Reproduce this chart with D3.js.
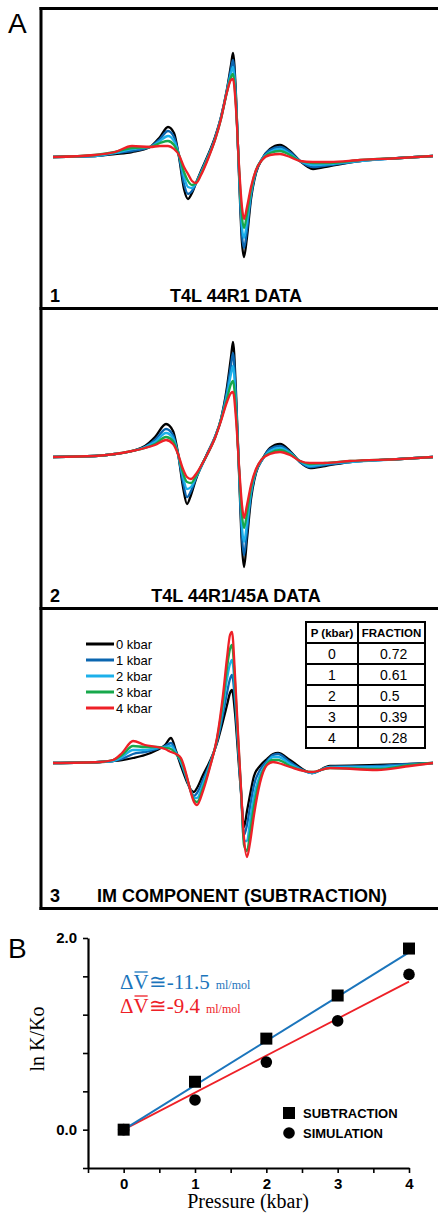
<!DOCTYPE html>
<html><head><meta charset="utf-8">
<script src="https://cdn.jsdelivr.net/npm/d3@7"></script>
<style>body{margin:0;background:#fff} svg{display:block}</style>
</head><body><svg id="chart" width="438" height="1216"></svg>
<script>
// ---------- Panel A data (field offset, arbitrary units; amplitude, arbitrary units) ----------
const pressureLabels = ["0 kbar", "1 kbar", "2 kbar", "3 kbar", "4 kbar"];
const seriesColors = ["#000000", "#0b66b0", "#1cb0ea", "#17a84b", "#ee2027"];

const field1 = [0, 42, 62, 79, 97, 107, 115, 121, 126, 131, 135, 139, 143, 148, 155, 162, 168, 174, 178, 180, 183, 186, 189, 191, 194, 198, 203, 209, 217, 227, 237, 247, 260, 277, 307, 347, 380];
const p1_0kbar = [0, 1, 3, 5, 10, 20, 30, 24, 0, -32, -42, -36, -26, -14, 2, 20, 40, 68, 92, 104, 62, -18, -86, -100, -80, -42, -16, -2, 8, 12, 6, -4, -12, -9, -4, -1, 1];
const p1_1kbar = [0, 1, 4, 6, 10, 18, 26, 20, 1, -27, -37, -34, -26, -15, 1, 19, 40, 67, 88, 97, 58, -16, -78, -91, -73, -39, -15, -2, 7, 10, 5, -4, -10, -8, -4, -1, 1];
const p1_2kbar = [0, 1, 4, 8, 10, 16, 21, 16, 2, -20, -30, -31, -26, -16, 0, 18, 39, 66, 84, 90, 54, -13, -70, -81, -65, -36, -14, -2, 5, 8, 3, -4, -8, -7, -4, -1, 1];
const p1_3kbar = [0, 2, 5, 9, 10, 14, 16, 12, 2, -15, -24, -28, -26, -17, -1, 17, 38, 65, 80, 83, 51, -10, -60, -71, -57, -33, -13, -3, 4, 6, 2, -4, -6, -6, -3, -1, 1];
const p1_4kbar = [0, 2, 5, 11, 10, 11, 11, 8, 2, -10, -17, -24, -26, -18, -2, 17, 38, 65, 77, 78, 48, -8, -50, -62, -50, -30, -13, -3, 2, 3, 0, -4, -5, -5, -3, -1, 1];

const field2 = [0, 42, 62, 79, 92, 102, 113, 120, 125, 130, 134, 138, 143, 148, 155, 162, 168, 174, 178, 180, 183, 186, 189, 191, 194, 198, 203, 209, 217, 227, 237, 247, 257, 272, 297, 347, 380];
const p2_0kbar = [0, 1, 3, 6, 11, 20, 33, 26, 4, -30, -47, -38, -22, -10, 5, 20, 38, 70, 100, 115, 65, -15, -90, -110, -82, -42, -16, -3, 9, 13, 6, -5, -11, -9, -5, -2, 0];
const p2_1kbar = [0, 1, 3, 6, 10, 17, 28, 22, 3, -25, -40, -34, -21, -10, 5, 20, 38, 66, 92, 104, 58, -13, -80, -98, -74, -38, -15, -3, 8, 11, 5, -5, -10, -8, -5, -2, 0];
const p2_2kbar = [0, 1, 3, 6, 10, 15, 24, 19, 3, -20, -32, -30, -20, -10, 4, 20, 37, 62, 83, 91, 52, -11, -70, -85, -66, -35, -14, -3, 6, 9, 4, -4, -9, -7, -5, -2, 0];
const p2_3kbar = [0, 1, 3, 6, 9, 13, 20, 16, 3, -16, -25, -26, -19, -9, 4, 19, 37, 58, 73, 76, 45, -10, -58, -71, -56, -31, -13, -2, 4, 7, 3, -4, -7, -6, -4, -2, 0];
const p2_4kbar = [0, 1, 3, 6, 9, 12, 17, 13, 3, -12, -20, -22, -17, -9, 4, 19, 36, 55, 64, 65, 38, -8, -48, -61, -48, -28, -12, -2, 3, 5, 2, -4, -6, -6, -4, -2, 0];

const field3 = [0, 47, 60, 69, 80, 92, 104, 112, 118, 123, 128, 134, 138, 141, 144, 150, 157, 164, 170, 174, 177, 179, 182, 185, 188, 191, 194, 197, 201, 207, 214, 220, 225, 237, 259, 277, 324, 357, 380];
const p3_0kbar = [0, 1, 2, 3, 5, 8, 13, 18, 25, 12, -3, -19, -27, -29, -25, -12, 2, 20, 42, 58, 70, 73, 50, 10, -30, -64, -48, -32, -13, -3, 4, 9, 10, 3, -10, -3, -2, -1, 0];
const p3_1kbar = [0, 1, 2, 4, 9, 11, 14, 17, 20, 11, 0, -17, -28, -33, -30, -17, 0, 21, 49, 70, 84, 88, 62, 17, -28, -72, -62, -44, -22, -7, 2, 8, 9, 1, -10, -4, -3, -1, 0];
const p3_2kbar = [0, 1, 2, 6, 13, 13, 15, 16, 17, 10, 1, -16, -29, -35, -35, -21, -1, 23, 56, 84, 99, 103, 72, 22, -27, -78, -78, -58, -33, -12, 0, 6, 6, -1, -10, -4, -4, -2, 0];
const p3_3kbar = [0, 1, 3, 8, 17, 16, 16, 15, 14, 9, 3, -15, -29, -37, -39, -25, -3, 24, 62, 95, 114, 118, 80, 26, -26, -82, -88, -70, -43, -16, -1, 3, 3, -3, -9, -5, -6, -2, 0];
const p3_4kbar = [0, 1, 3, 10, 22, 18, 16, 14, 11, 9, 5, -14, -30, -39, -42, -28, -4, 25, 68, 105, 128, 131, 88, 30, -25, -75, -94, -80, -52, -20, -2, 1, 0, -4, -9, -5, -7, -3, 0];

const panelNumbers = ["1", "2", "3"];
const panelTitles = ["T4L 44R1 DATA", "T4L 44R1/45A DATA", "IM COMPONENT (SUBTRACTION)"];

// table in panel 3
const tableHeader = ["P (kbar)", "FRACTION"];
const tablePressure = ["0", "1", "2", "3", "4"];
const tableFraction = ["0.72", "0.61", "0.5", "0.39", "0.28"];

// ---------- Panel B data ----------
const pressureKbar = [0, 1, 2, 3, 4];
const subtraction = [0, 0.50, 0.95, 1.40, 1.89];
const simulation = [0, 0.31, 0.705, 1.135, 1.62];
const fitX = [0, 4];
const fitSubtraction = [0, 1.85];
const fitSimulation = [0, 1.545];
const yTickValues = [-0.4, 0, 0.4, 0.8, 1.2, 1.6, 2.0];
const yTickLabels = {"0": "0.0", "2": "2.0"};
const xTickValues = [-0.5, 0, 0.5, 1, 1.5, 2, 2.5, 3, 3.5, 4];
const legendB = ["SUBTRACTION", "SIMULATION"];

// ---------- Drawing ----------
const SANS = "'Liberation Sans', Arial, Helvetica, sans-serif";
const SERIF = "'Liberation Serif', 'Times New Roman', serif";
const svg = d3.select("#chart");

const panels = [
  {field: field1, series: [p1_0kbar, p1_1kbar, p1_2kbar, p1_3kbar, p1_4kbar], top: 8.5, base: 157},
  {field: field2, series: [p2_0kbar, p2_1kbar, p2_2kbar, p2_3kbar, p2_4kbar], top: 308.5, base: 457},
  {field: field3, series: [p3_0kbar, p3_1kbar, p3_2kbar, p3_3kbar, p3_4kbar], top: 608.5, base: 763}
];

const xSpec = d3.scaleLinear().domain([0, 380]).range([53, 433]);

// frame
const frame = svg.append("g").attr("stroke", "#000").attr("stroke-width", 3).attr("fill", "none");
frame.append("line").attr("x1", 41).attr("x2", 41).attr("y1", 7).attr("y2", 910);
[8.5, 308.5, 608.5, 908.5].forEach(y => frame.append("line").attr("x1", 39.5).attr("x2", 438).attr("y1", y).attr("y2", y));

svg.append("text").attr("x", 8).attr("y", 33).attr("font-family", SANS).attr("font-size", 28).text("A");

panels.forEach((p, i) => {
  const y = d3.scaleLinear().domain([-150, 150]).range([p.base + 150, p.base - 150]);
  const line = d3.line().x(d => xSpec(d[0])).y(d => y(d[1])).curve(d3.curveMonotoneX);
  const g = svg.append("g");
  p.series.forEach((s, k) => {
    g.append("path")
      .attr("d", line(p.field.map((f, j) => [f, s[j]])))
      .attr("fill", "none").attr("stroke", seriesColors[k])
      .attr("stroke-width", 2.3).attr("stroke-linejoin", "round");
  });
  svg.append("text").attr("x", 50).attr("y", p.top + 293).attr("font-family", SANS)
    .attr("font-weight", "bold").attr("font-size", 18).text(panelNumbers[i]);
  svg.append("text").attr("x", i === 2 ? 242 : 236).attr("y", p.top + 293).attr("text-anchor", "middle")
    .attr("font-family", SANS).attr("font-weight", "bold").attr("font-size", 18).text(panelTitles[i]);
});

// legend in panel 3
const leg = svg.append("g");
pressureLabels.forEach((lab, k) => {
  const ly = 644 + 16 * k;
  leg.append("line").attr("x1", 86).attr("x2", 114).attr("y1", ly).attr("y2", ly)
    .attr("stroke", seriesColors[k]).attr("stroke-width", 3);
  leg.append("text").attr("x", 116).attr("y", ly).attr("dy", "0.36em")
    .attr("font-family", SANS).attr("font-size", 13).text(lab);
});

// table
const tb = svg.append("g");
const tx0 = 306, tx1 = 358, tx2 = 425;
const rowY = [622, 643, 664, 685, 706, 727, 748];
tb.append("rect").attr("x", tx0).attr("y", rowY[0]).attr("width", tx2 - tx0).attr("height", rowY[6] - rowY[0])
  .attr("fill", "#fff").attr("stroke", "#000").attr("stroke-width", 2);
rowY.slice(1, 6).forEach(yy => tb.append("line").attr("x1", tx0).attr("x2", tx2).attr("y1", yy).attr("y2", yy).attr("stroke", "#000").attr("stroke-width", 2));
tb.append("line").attr("x1", tx1).attr("x2", tx1).attr("y1", rowY[0]).attr("y2", rowY[6]).attr("stroke", "#000").attr("stroke-width", 2);
tb.append("text").attr("x", (tx0 + tx1) / 2).attr("y", (rowY[0] + rowY[1]) / 2).attr("dy", "0.36em").attr("text-anchor", "middle")
  .attr("font-family", SANS).attr("font-weight", "bold").attr("font-size", 11.5).text(tableHeader[0]);
tb.append("text").attr("x", (tx1 + tx2) / 2).attr("y", (rowY[0] + rowY[1]) / 2).attr("dy", "0.36em").attr("text-anchor", "middle")
  .attr("font-family", SANS).attr("font-weight", "bold").attr("font-size", 11.5).text(tableHeader[1]);
tablePressure.forEach((pv, r) => {
  const cy = (rowY[r + 1] + rowY[r + 2]) / 2;
  tb.append("text").attr("x", (tx0 + tx1) / 2).attr("y", cy).attr("dy", "0.36em").attr("text-anchor", "middle")
    .attr("font-family", SANS).attr("font-size", 14).text(pv);
  tb.append("text").attr("x", 380).attr("y", cy).attr("dy", "0.36em")
    .attr("font-family", SANS).attr("font-size", 14).text(tableFraction[r]);
});

// ---------- Panel B ----------
svg.append("text").attr("x", 8).attr("y", 958).attr("font-family", SANS).attr("font-size", 28).text("B");

const xB = d3.scaleLinear().domain([-0.5, 4]).range([88, 409]);
const yB = d3.scaleLinear().domain([-0.4, 2.0]).range([1168, 938]);

const yAxis = d3.axisLeft(yB).tickValues(yTickValues).tickSize(5).tickSizeOuter(0).tickPadding(6)
  .tickFormat(d => yTickLabels[String(Math.round(d * 10) / 10)] || "");
const gy = svg.append("g").attr("transform", "translate(88,0)").call(yAxis);
const xAxis = d3.axisBottom(xB).tickValues(xTickValues).tickSize(5).tickSizeOuter(0).tickPadding(5)
  .tickFormat(d => Number.isInteger(d) ? String(d) : "");
const gx = svg.append("g").attr("transform", "translate(0,1168)").call(xAxis);
[gx, gy].forEach(g => {
  g.select(".domain").attr("stroke", "#000").attr("stroke-width", 2.2);
  g.selectAll(".tick line").attr("stroke", "#000").attr("stroke-width", 1.6);
  g.selectAll(".tick text").attr("font-family", SANS).attr("font-weight", "bold").attr("font-size", 15).attr("fill", "#000");
});

const fitLine = d3.line().x(d => xB(d[0])).y(d => yB(d[1]));
svg.append("path").attr("d", fitLine(fitX.map((x, i) => [x, fitSimulation[i]])))
  .attr("stroke", "#ee2027").attr("stroke-width", 1.8).attr("fill", "none");
svg.append("path").attr("d", fitLine(fitX.map((x, i) => [x, fitSubtraction[i]])))
  .attr("stroke", "#1b75bc").attr("stroke-width", 2).attr("fill", "none");

svg.append("g").selectAll("circle").data(pressureKbar).join("circle")
  .attr("cx", d => xB(d)).attr("cy", (d, i) => yB(simulation[i])).attr("r", 5.8).attr("fill", "#000");
svg.append("g").selectAll("rect").data(pressureKbar).join("rect")
  .attr("x", d => xB(d) - 6).attr("y", (d, i) => yB(subtraction[i]) - 6)
  .attr("width", 12).attr("height", 12).attr("fill", "#000");

// legend B
svg.append("rect").attr("x", 283).attr("y", 1107).attr("width", 12).attr("height", 12).attr("fill", "#000");
svg.append("circle").attr("cx", 289).attr("cy", 1133).attr("r", 5.8).attr("fill", "#000");
legendB.forEach((t, i) => svg.append("text").attr("x", 303).attr("y", 1113 + 20 * i).attr("dy", "0.36em")
  .attr("font-family", SANS).attr("font-weight", "bold").attr("font-size", 13).text(t));

// annotations
function dv(yBase, color, value) {
  const t = svg.append("text").attr("x", 120).attr("y", yBase).attr("font-family", SERIF).attr("font-size", 21).attr("fill", color);
  t.append("tspan").text("ΔV≅-" + value);
  t.append("tspan").attr("dx", 6).attr("font-size", 12).text("ml/mol");
  // overline over the "V" (character index 1)
  const node = t.node();
  const s = node.getStartPositionOfChar(1), e = node.getEndPositionOfChar(1);
  svg.append("line").attr("x1", s.x + 1).attr("x2", e.x - 1).attr("y1", yBase - 17).attr("y2", yBase - 17)
    .attr("stroke", color).attr("stroke-width", 1.3);
}
dv(989, "#1b75bc", "11.5");
dv(1013, "#ee2027", "9.4");

// axis titles
svg.append("text").attr("transform", "translate(44,1039) rotate(-90)").attr("text-anchor", "middle")
  .attr("font-family", SERIF).attr("font-size", 20).text("ln K/Ko");
svg.append("text").attr("x", 248).attr("y", 1208).attr("text-anchor", "middle")
  .attr("font-family", SERIF).attr("font-size", 20).text("Pressure (kbar)");
</script>
</body></html>
